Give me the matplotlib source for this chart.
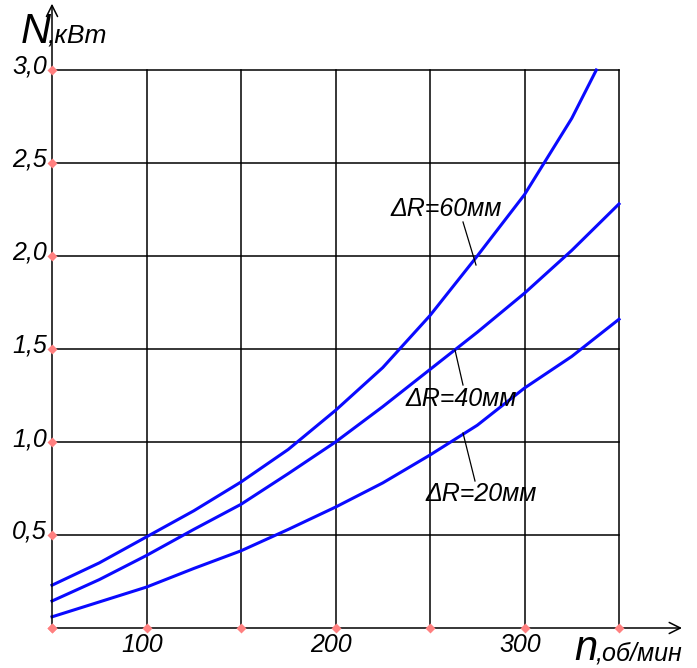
import matplotlib.pyplot as plt
import numpy as np

plt.rcParams['font.family'] = ['Liberation Sans', 'DejaVu Sans']

# speed n, rpm
n_60 = [50, 75, 100, 125, 150, 175, 200, 225, 250, 275, 300, 325, 338]
N_60 = [0.23, 0.35, 0.49, 0.63, 0.785, 0.96, 1.17, 1.40, 1.68, 2.0, 2.33, 2.74, 3.0]
n_40 = [50, 75, 100, 125, 150, 175, 200, 225, 250, 275, 300, 325, 350]
N_40 = [0.145, 0.26, 0.39, 0.53, 0.665, 0.83, 1.0, 1.19, 1.39, 1.59, 1.80, 2.03, 2.28]
n_20 = [50, 75, 100, 125, 150, 175, 200, 225, 250, 275, 300, 325, 350]
N_20 = [0.06, 0.14, 0.22, 0.32, 0.415, 0.53, 0.65, 0.78, 0.93, 1.09, 1.29, 1.46, 1.66]

xgrid = [50, 100, 150, 200, 250, 300, 350]
ygrid = [0.0, 0.5, 1.0, 1.5, 2.0, 2.5, 3.0]
xlabels = ['100', '200', '300']
xlabel_pos = [100, 200, 300]
ylabels = ['0,5', '1,0', '1,5', '2,0', '2,5', '3,0']

W, H = 697, 668
fig = plt.figure(figsize=(W / 100, H / 100), dpi=100)
ax = fig.add_axes([0, 0, 1, 1])
ax.axis('off')

# pixel mapping: x 52px -> 50, 1.89 px/unit ; y 628px -> 0, 186 px/unit
sx, sy = 1.89, 186.0
ax.set_xlim(50 - 52 / sx, 50 + (W - 52) / sx)
ax.set_ylim(-(H - 628) / sy, 628 / sy)

# grid
for g in xgrid[1:]:
    ax.plot([g, g], [0, 3.0], color='black', lw=1.1, zorder=1)
for g in ygrid[1:]:
    ax.plot([50, 350], [g, g], color='black', lw=1.1, zorder=1)

# axes with arrows
ax.annotate('', xy=(50, 628 / sy - 0.02), xytext=(50, 0),
            arrowprops=dict(arrowstyle='->', lw=1.1, color='black',
                            mutation_scale=20, shrinkA=0, shrinkB=0))
ax.annotate('', xy=(50 + 630 / sx, 0), xytext=(50, 0),
            arrowprops=dict(arrowstyle='->', lw=1.1, color='black',
                            mutation_scale=20, shrinkA=0, shrinkB=0))

# tick markers
ax.plot(xgrid, [0] * len(xgrid), 'D', color='#ff8080', ms=5, mec='none', zorder=3)
ax.plot([50] * len(ygrid), ygrid, 'D', color='#ff8080', ms=5, mec='none', zorder=3)

# curves
blue = '#0a0aff'
for xs, ys in [(n_60, N_60), (n_40, N_40), (n_20, N_20)]:
    ax.plot(xs, ys, color=blue, lw=2.2, zorder=2, solid_joinstyle='round')

# tick labels
for lab, y in zip(ylabels, ygrid[1:]):
    ax.text(50 - 5 / sx, y - 4 / sy, lab, ha='right', va='baseline', fontsize=18, style='italic')
for lab, x in zip(xlabels, xlabel_pos):
    ax.text(x - 3 / sx * 1.5, -5 / sy, lab, ha='center', va='top', fontsize=18, style='italic')

# axis titles
ax.text(50 - 31 / sx, (628 - 43) / sy, 'N', ha='left', va='baseline', fontsize=30, style='italic')
ax.text(50 - 4 / sx, (628 - 43) / sy, ',кВт', ha='left', va='baseline', fontsize=19, style='italic')
ax.text(50 + 522 / sx, -32 / sy, 'n', ha='left', va='baseline', fontsize=30, style='italic')
ax.text(50 + 544 / sx, -32 / sy, ',об/мин', ha='left', va='baseline', fontsize=18, style='italic')

# curve labels with leaders
def lab(text, tx, ty, x0, y0, x1, y1):
    ax.text(tx, ty, text, ha='left', va='baseline', fontsize=18, style='italic')
    ax.plot([x0, x1], [y0, y1], color='black', lw=0.9)

lab('ΔR=60мм', 50 + 338 / sx, (628 - 216) / sy, 50 + 411 / sx, (628 - 222) / sy, 50 + 424 / sx, (628 - 265) / sy)
lab('ΔR=40мм', 50 + 353 / sx, (628 - 406) / sy, 50 + 411 / sx, (628 - 385) / sy, 50 + 403 / sx, (628 - 350) / sy)
lab('ΔR=20мм', 50 + 373 / sx, (628 - 501) / sy, 50 + 411 / sx, (628 - 433) / sy, 50 + 423 / sx, (628 - 481) / sy)

fig.savefig('out.png', dpi=100)
